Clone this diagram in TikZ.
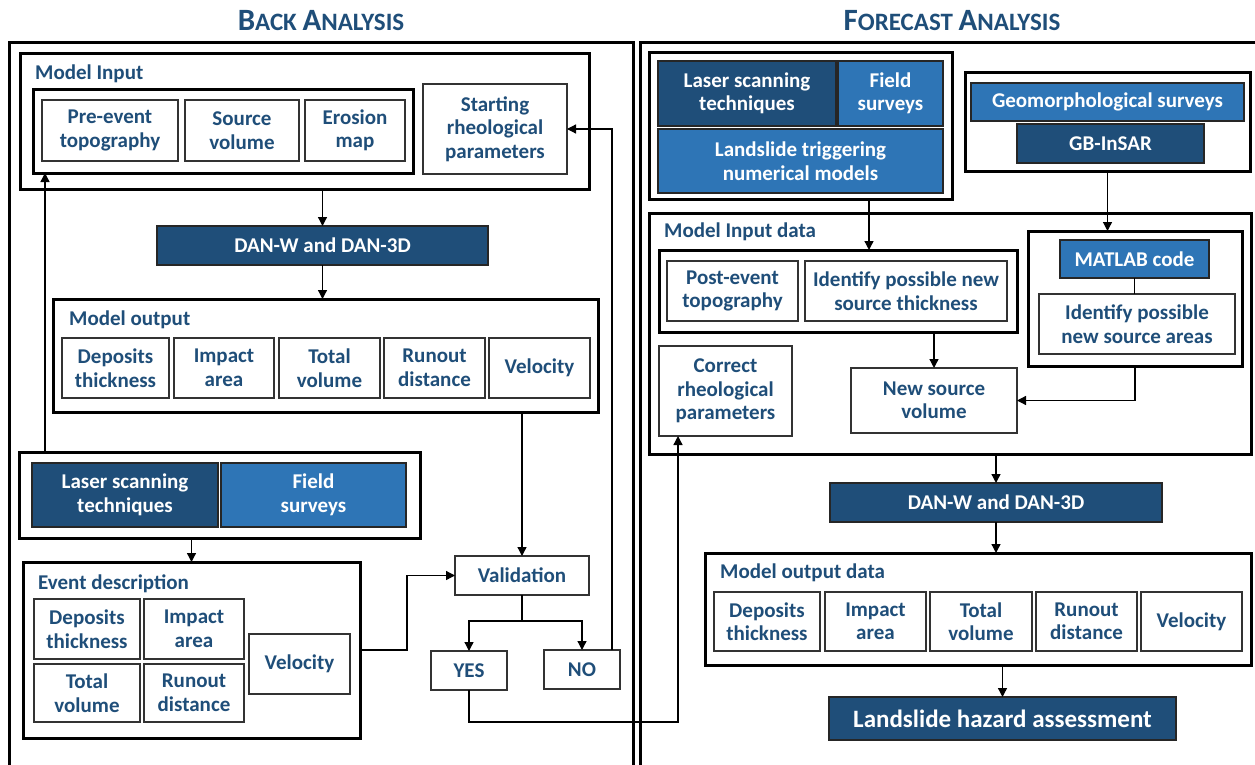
\documentclass[tikz,border=0pt]{standalone}
\usepackage{fontspec}
\setmainfont{Carlito}
\usetikzlibrary{arrows.meta,calc}
\definecolor{dblue}{HTML}{1F4E79}
\definecolor{mblue}{HTML}{2E75B6}
\newcommand\bodyf{\fontsize{21}{23.5}\selectfont\bfseries}
\newcommand\bigT{\fontsize{31}{31}\selectfont\bfseries}
\newcommand\smT{\fontsize{25}{31}\selectfont\bfseries}
\tikzset{
  bb/.style n args={4}{minimum width={(#3-#1)*1pt}, minimum height={(#4-#2)*1pt}, at={({(#1+#3)/2},{(#2+#4)/2})}},
  base/.style={inner sep=0pt, outer sep=0pt, align=center, font=\bodyf},
  thin/.style={base, draw=black!80, line width=1.1pt, fill=white, text=dblue},
  thick/.style={base, draw=black, line width=3pt, fill=white},
  dark/.style={base, draw=black!85, line width=1.2pt, fill=dblue, text=white},
  med/.style={base, draw=black!85, line width=1.2pt, fill=mblue, text=white},
  lbl/.style={inner sep=0pt, anchor=west, font=\bodyf, text=dblue},
  arr/.style={line width=1.3pt, -{Triangle[length=9pt,width=9pt]}},
  ln/.style={line width=1.3pt},
  panel/.style={line width=3pt}
}
\begin{document}
\begin{tikzpicture}[x=1pt,y=-1pt]
\useasboundingbox (0,0) rectangle (1255,765);
% titles
\node[inner sep=0pt, text=dblue] (t1) at (321,21) {\bigT B\smT ACK \bigT A\smT NALYSIS};
\node[inner sep=0pt, text=dblue] (t2) at (952,21) {\bigT F\smT ORECAST \bigT A\smT NALYSIS};
% panels
\draw[panel] (9,766) -- (9,43) -- (633,43) -- (633,766);
\draw[panel] (640,766) -- (640,43) -- (1256,43);

% ===== LEFT =====
\node[thick, bb={20}{54}{589}{189}] (mi) {};
\node[lbl] (milbl) at (35,74) {Model Input};
\node[thick, bb={33}{90}{413}{173}] (miin) {};
\node[thin, bb={42}{100}{178}{161}] (pre) {Pre-event\\topography};
\node[thin, bb={185}{100}{299}{161}] (src) {Source\\volume};
\node[thin, bb={305}{100}{405}{161}] (ero) {Erosion\\map};
\node[thin, bb={423}{84}{567}{174}] (srp) {Starting\\rheological\\parameters};

\node[dark, bb={157}{226}{488}{265}] (dan1) {DAN-W and DAN-3D};

\node[thick, bb={53}{299}{598}{412}] (mo) {};
\node[lbl] (molbl) at (69,320) {Model output};
\node[thin, bb={62}{338}{169}{398}] (mo1) {Deposits\\thickness};
\node[thin, bb={174}{338}{274}{398}] (mo2) {Impact\\area};
\node[thin, bb={279}{338}{380}{398}] (mo3) {Total\\volume};
\node[thin, bb={384}{338}{485}{398}] (mo4) {Runout\\distance};
\node[thin, bb={489}{338}{590}{398}] (mo5) {Velocity};

\node[thick, bb={19}{452}{420}{538}] (las) {};
\node[dark, bb={32}{463}{218}{527}] (lst) {Laser scanning\\techniques};
\node[med, bb={221}{463}{406}{527}] (fld) {Field\\surveys};

\node[thick, bb={23}{562}{360}{738}] (ed) {};
\node[lbl] (edlbl) at (38,584) {Event description};
\node[thin, bb={34}{599}{140}{659}] (ed1) {Deposits\\thickness};
\node[thin, bb={144}{599}{244}{659}] (ed2) {Impact\\area};
\node[thin, bb={34}{664}{140}{722}] (ed3) {Total\\volume};
\node[thin, bb={144}{664}{244}{722}] (ed4) {Runout\\distance};
\node[thin, bb={249}{634}{350}{694}] (ed5) {Velocity};

\node[thin, bb={455}{556}{589}{595}] (val) {Validation};
\node[thin, bb={431}{651}{507}{690}] (yes) {YES};
\node[thin, bb={544}{650}{620}{689}] (no) {NO};

% ===== RIGHT =====
\node[thick, bb={649}{53}{952}{199}] (tl) {};
\node[dark, bb={658}{61}{836}{126}] (rlas) {Laser scanning\\techniques};
\node[med, bb={838}{61}{943}{126}] (rfld) {Field\\surveys};
\node[med, bb={658}{129}{943}{193}] (trig) {Landslide triggering\\numerical models};

\node[thick, bb={965}{73}{1250}{171}] (tr) {};
\node[med, bb={971}{83}{1244}{121}] (geo) {Geomorphological surveys};
\node[dark, bb={1017}{124}{1204}{163}] (gb) {GB-InSAR};

\node[thick, bb={649}{213}{1251}{454}] (mid) {};
\node[lbl] (midlbl) at (664,232) {Model Input data};
\node[thick, bb={659}{250}{1017}{332}] (midl) {};
\node[thin, bb={667}{261}{798}{321}] (post) {Post-event\\topography};
\node[thin, bb={805}{261}{1007}{321}] (idt) {Identify possible new\\source thickness};
\node[thick, bb={1028}{231}{1242}{366}] (midr) {};
\node[med, bb={1060}{240}{1209}{278}] (mat) {MATLAB code};
\node[thin, bb={1039}{294}{1235}{354}] (ida) {Identify possible\\new source areas};
\node[thin, bb={659}{346}{792}{436}] (crp) {Correct\\rheological\\parameters};
\node[thin, bb={851}{368}{1017}{433}] (nsv) {New source\\volume};

\node[dark, bb={830}{483}{1162}{522}] (dan2) {DAN-W and DAN-3D};

\node[thick, bb={705}{553}{1251}{665}] (mod) {};
\node[lbl] (modlbl) at (720,573) {Model output data};
\node[thin, bb={714}{592}{820}{651}] (od1) {Deposits\\thickness};
\node[thin, bb={825}{592}{926}{651}] (od2) {Impact\\area};
\node[thin, bb={930}{592}{1032}{651}] (od3) {Total\\volume};
\node[thin, bb={1036}{592}{1137}{651}] (od4) {Runout\\distance};
\node[thin, bb={1141}{592}{1242}{651}] (od5) {Velocity};

\node[dark, bb={829}{697}{1176}{740}, font=\fontsize{25}{28}\selectfont\bfseries] (lha) {Landslide hazard assessment};

% ===== CONNECTORS LEFT =====
\draw[arr] (dan1.north |- mi.south) -- (dan1.north);
\draw[arr] (dan1.south) -- (dan1.south |- mo.north);
\draw[arr] (val.north |- mo.south) -- (val.north);
\draw[arr] ([xshift=26pt]las.north west) -- ([xshift=26pt]las.north west |- miin.south);
\draw[arr] (ed.north |- las.south) -- (ed.north);
\draw[arr] (ed.east) -- ++(47,0) |- (val.west);
\draw[ln] (val.south) -- ++(0,26) coordinate (split);
\draw[arr] (split) -| (yes.north);
\draw[arr] (split) -| (no.north);
\draw[arr] ([xshift=30pt]no.north) |- (srp.east);
\draw[arr] (yes.south) -- ++(0,32) -| ([xshift=-47.5pt]crp.south);

% ===== CONNECTORS RIGHT =====
\draw[arr] ([xshift=68.5pt]tl.south) -- ([xshift=68.5pt]tl.south |- midl.north);
\draw[arr] (tr.south) -- (tr.south |- midr.north);
\draw[ln] (mat.south) -- (mat.south |- ida.north);
\draw[arr] (nsv.north |- midl.south) -- (nsv.north);
\draw[arr] (midr.south) |- (nsv.east);
\draw[arr] (dan2.north |- mid.south) -- (dan2.north);
\draw[arr] (dan2.south) -- (dan2.south |- mod.north);
\draw[arr] (lha.north |- mod.south) -- (lha.north);
\end{tikzpicture}
\end{document}
